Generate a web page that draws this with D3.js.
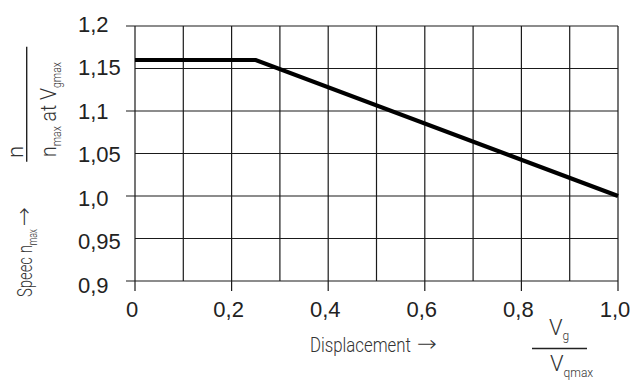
<!DOCTYPE html>
<html>
<head>
<meta charset="utf-8">
<script src="https://cdn.jsdelivr.net/npm/d3@7"></script>
<style>
  body { margin: 0; background: #fff; }
  svg { display: block; }
  .tick-label { font-family: "Liberation Sans", Arial, sans-serif; font-size: 22px; fill: #222; }
  .title { font-family: Roboto, "DejaVu Sans Condensed", sans-serif; font-weight: 300; fill: #333; }
  .arrow { font-family: "DejaVu Sans", sans-serif; font-weight: 200; fill: #333; }
</style>
</head>
<body>
<div id="chart"></div>
<script>
// values
const xTicks = [0, 0.1, 0.2, 0.3, 0.4, 0.5, 0.6, 0.7, 0.8, 0.9, 1.0];
const xLabelTicks = [0, 0.2, 0.4, 0.6, 0.8, 1.0];
const xLabels = ['0', '0,2', '0,4', '0,6', '0,8', '1,0'];
const yTicks = [0.9, 0.95, 1.0, 1.05, 1.1, 1.15, 1.2];
const yMajorTicks = [0.9, 1.0, 1.1, 1.2];
const yLabels = ['0,9', '0,95', '1,0', '1,05', '1,1', '1,15', '1,2'];
const seriesX = [0, 0.25, 1.0];
const seriesY = [1.16, 1.16, 1.0];

const width = 632, height = 381;
const plot = {left: 135, right: 618, top: 26, bottom: 281};

let svg = d3.select('#chart').append('svg')
  .attr('width', width).attr('height', height);

let x = d3.scaleLinear().domain([0, 1]).range([plot.left, plot.right]);
let y = d3.scaleLinear().domain([0.9, 1.2]).range([plot.bottom, plot.top]);
// labels sit a little off the grid lines in the original
let yLab = d3.scaleLinear().domain([0.9, 1.2]).range([293, 31.5]);

let grid = svg.append('g').attr('stroke', '#1a1a1a').attr('stroke-width', 1.2);

grid.selectAll('line.v').data(xTicks).enter().append('line')
  .attr('class', 'v')
  .attr('x1', d => x(d)).attr('x2', d => x(d))
  .attr('y1', plot.top).attr('y2', d => xLabelTicks.includes(d) ? plot.bottom + 10 : plot.bottom);

grid.selectAll('line.h').data(yTicks).enter().append('line')
  .attr('class', 'h')
  .attr('y1', d => y(d)).attr('y2', d => y(d))
  .attr('x1', d => yMajorTicks.includes(d) ? plot.left - 9 : plot.left).attr('x2', plot.right);

svg.selectAll('text.ylab').data(yTicks).enter().append('text')
  .attr('class', 'tick-label ylab')
  .attr('x', 78)
  .attr('y', d => yLab(d))
  .text((d, i) => yLabels[i]);

svg.selectAll('text.xlab').data(xLabelTicks).enter().append('text')
  .attr('class', 'tick-label xlab')
  .attr('text-anchor', 'middle')
  .attr('x', d => x(d) - 3)
  .attr('y', 317)
  .text((d, i) => xLabels[i]);

let line = d3.line().x(d => x(d[0])).y(d => y(d[1]));
svg.append('path')
  .datum(seriesX.map((v, i) => [v, seriesY[i]]))
  .attr('d', line)
  .attr('fill', 'none')
  .attr('stroke', '#000')
  .attr('stroke-width', 4.2)
  .attr('stroke-linejoin', 'miter');

// helper: text with subscripts, parts = [[text, isSub], ...]
let richText = function(parent, parts, size, subSize, drop) {
  let t = parent.append('text').attr('class', 'title').attr('font-size', size);
  let lowered = false;
  parts.forEach(function(p) {
    let span = t.append('tspan').text(p[0]);
    if (p[1]) {
      span.attr('font-size', subSize).attr('dy', lowered ? 0 : drop);
      lowered = true;
    } else {
      if (lowered) span.attr('dy', -drop);
      lowered = false;
    }
  });
  return t;
}

let arrow = function(parent, len) {
  return parent.append('text').attr('class', 'arrow').attr('font-size', 22)
    .attr('textLength', len).attr('lengthAdjust', 'spacingAndGlyphs')
    .text('\u2192');
}

// x axis title, squeezed sideways like the condensed face of the original
richText(svg, [['Displacement', false]], 21, 12, 0)
  .attr('transform', 'translate(310,351.5) scale(0.8,1)');
arrow(svg, 20).attr('x', 417).attr('y', 351);

richText(svg, [['V', false], ['g', true]], 22, 12, 5)
  .attr('x', 549).attr('y', 335);
svg.append('line')
  .attr('x1', 532).attr('x2', 587).attr('y1', 348.5).attr('y2', 348.5)
  .attr('stroke', '#222').attr('stroke-width', 1.4);
richText(svg, [['V', false], ['qmax', true]], 22, 12, 6)
  .attr('x', 550).attr('y', 371);

// y axis title (rotated)
richText(svg, [['n', false]], 22, 12, 5)
  .attr('transform', 'translate(23,158) rotate(-90)');
svg.append('line')
  .attr('x1', 26.7).attr('x2', 26.7).attr('y1', 46.7).attr('y2', 161.7)
  .attr('stroke', '#222').attr('stroke-width', 1.4);
richText(svg, [['n', false], ['max', true], [' at V', false], ['gmax', true]], 22, 12, 5)
  .attr('transform', 'translate(56,157) rotate(-90)')
  .attr('textLength', 95).attr('lengthAdjust', 'spacingAndGlyphs');
richText(svg, [['Speec n', false], ['max', true]], 21, 12, 5)
  .attr('transform', 'translate(32,297) rotate(-90)')
  .attr('textLength', 68).attr('lengthAdjust', 'spacingAndGlyphs');
arrow(svg, 19).attr('transform', 'translate(31,226) rotate(-90)');
</script>
</body>
</html>
